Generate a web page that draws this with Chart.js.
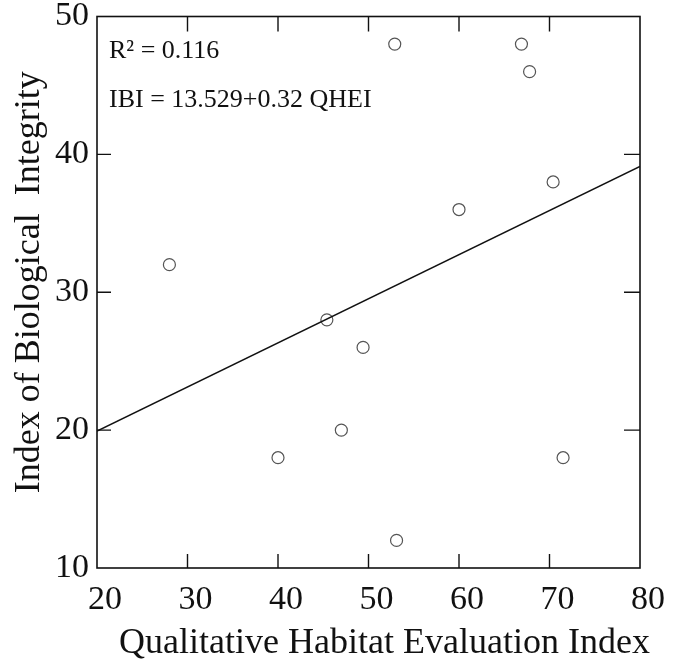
<!DOCTYPE html>
<html>
<head>
<meta charset="utf-8">
<script src="https://cdn.jsdelivr.net/npm/chart.js@4"></script>
<style>
  html, body { margin: 0; padding: 0; background: #fff; }
</style>
</head>
<body>
<canvas id="myChart" width="683" height="664"></canvas>
<script>
// data
const qhei = [28.0, 40.0, 45.4, 47.0, 49.4, 52.9, 53.1, 60.0, 66.9, 67.8, 70.4, 71.5];
const ibi = [32, 18, 28, 20, 26, 48, 12, 36, 48, 46, 38, 18];
// regression line end points
const fitX = [20, 80];
const fitY = [19.93, 39.13];
const xTicks = [20, 30, 40, 50, 60, 70, 80];
const yTicks = [10, 20, 30, 40, 50];
const statLines = ["R\u00B2 = 0.116", "IBI = 13.529+0.32 QHEI"];
const xTitle = "Qualitative Habitat Evaluation Index";
const yTitle = "Index of Biological  Integrity";

const serif = "'Liberation Serif', 'Times New Roman', serif";

// box + inward ticks on all four sides, stats text and axis titles
const frameTicks = {
  id: "frameTicks",
  afterDraw(chart) {
    const { ctx, chartArea: a, scales } = chart;
    ctx.save();
    ctx.strokeStyle = "#111";
    ctx.lineWidth = 1.6;
    ctx.strokeRect(a.left, a.top, a.right - a.left, a.bottom - a.top);
    ctx.lineWidth = 1.4;
    ctx.beginPath();
    xTicks.slice(1, -1).forEach(v => {
      const px = scales.x.getPixelForValue(v);
      ctx.moveTo(px, a.bottom); ctx.lineTo(px, a.bottom - 14);
      ctx.moveTo(px, a.top); ctx.lineTo(px, a.top + 15);
    });
    yTicks.slice(1, -1).forEach(v => {
      const py = scales.y.getPixelForValue(v);
      ctx.moveTo(a.left, py); ctx.lineTo(a.left + 14, py);
      ctx.moveTo(a.right, py); ctx.lineTo(a.right - 16, py);
    });
    ctx.stroke();

    ctx.fillStyle = "#111";
    ctx.textBaseline = "middle";
    ctx.font = "26px " + serif;
    ctx.fillText(statLines[0], a.left + 12, a.top + 35);
    ctx.fillText(statLines[1], a.left + 12, a.top + 84);

    ctx.font = "36px " + serif;
    ctx.textAlign = "center";
    ctx.fillText(xTitle, (a.left + a.right) / 2 + 16, 644);
    ctx.translate(30, (a.top + a.bottom) / 2 - 10);
    ctx.rotate(-Math.PI / 2);
    ctx.fillText(yTitle, 0, 0);
    ctx.restore();
  }
};

const points = qhei.map((x, i) => ({ x: x, y: ibi[i] }));
const fit = fitX.map((x, i) => ({ x: x, y: fitY[i] }));

new Chart(document.getElementById("myChart"), {
  type: "scatter",
  data: {
    datasets: [
      {
        type: "line",
        data: fit,
        borderColor: "#111",
        borderWidth: 1.6,
        pointRadius: 0,
        fill: false,
      },
      {
        data: points,
        pointRadius: 6,
        pointBorderWidth: 1.2,
        borderColor: "#555",
        backgroundColor: "rgba(0,0,0,0)",
      },
    ],
  },
  options: {
    responsive: false,
    animation: false,
    layout: { padding: { top: 13, right: 43, left: 0, bottom: 0 } },
    plugins: {
      legend: { display: false },
      tooltip: { enabled: false },
    },
    scales: {
      x: {
        type: "linear",
        min: 20,
        max: 80,
        afterBuildTicks(scale) { scale.ticks = xTicks.map(v => ({ value: v })); },
        afterFit(scale) { scale.height = 96; },
        grid: { display: false, drawTicks: false },
        border: { display: false },
        ticks: {
          color: "#111",
          padding: 12,
          labelOffset: 8,
          font: { family: serif, size: 34, lineHeight: 1.2 },
        },
      },
      y: {
        type: "linear",
        min: 10,
        max: 50,
        afterBuildTicks(scale) { scale.ticks = yTicks.map(v => ({ value: v })); },
        afterFit(scale) { scale.width = 97; },
        grid: { display: false, drawTicks: false },
        border: { display: false },
        ticks: {
          color: "#111",
          padding: 8,
          font: { family: serif, size: 34, lineHeight: 0.5 },
        },
      },
    },
  },
  plugins: [frameTicks],
});
</script>
</body>
</html>
